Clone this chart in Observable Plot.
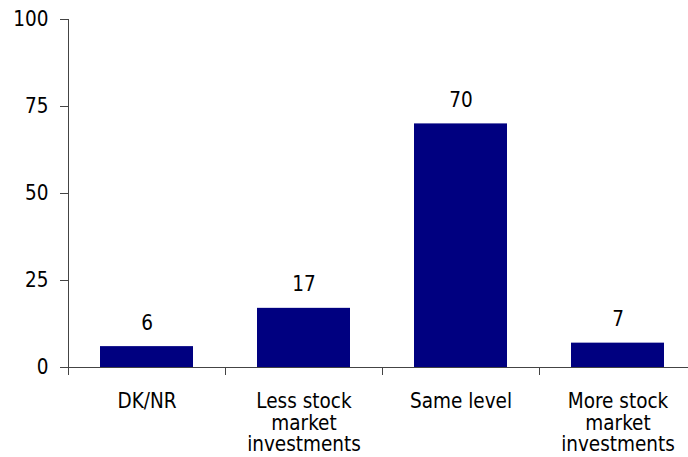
<!DOCTYPE html>
<html><head><meta charset="utf-8">
<script src="https://cdn.jsdelivr.net/npm/d3@7"></script>
<script src="https://cdn.jsdelivr.net/npm/@observablehq/plot@0.6"></script>
<style>body{margin:0;background:#fff;} svg{display:block;}</style>
</head><body><div id="chart"></div>
<script>
const categories = ["DK/NR", "Less stock\nmarket\ninvestments", "Same level", "More stock\nmarket\ninvestments"];
const values = [6, 17, 70, 7];
const yTicks = [0, 25, 50, 75, 100];
const data = categories.map((c, i) => ({category: c, value: values[i]}));

const axisColor = "#444";
const fs = 20.5;

// category boundary ticks below the x axis, placed with the band scale
function boundaryTicks(index, scales) {
  const x = scales.x, y = scales.y;
  const step = x.step(), bw = x.bandwidth();
  const gap = (step - bw) / 2;
  const xs = categories.map(c => x(c) - gap);
  xs.push(x(categories[categories.length - 1]) + bw + gap);
  const y0 = y(0);
  const g = d3.create("svg:g").attr("stroke", axisColor).attr("stroke-width", 1);
  for (const v of xs) {
    g.append("line").attr("x1", v + 0.5).attr("x2", v + 0.5).attr("y1", y0).attr("y2", y0 + 8);
  }
  return g.node();
}

const chart = Plot.plot({
  width: 688,
  height: 457,
  marginLeft: 68,
  marginRight: 0,
  marginTop: 19,
  marginBottom: 90,
  style: {fontFamily: "'DejaVu Sans Condensed', 'DejaVu Sans', sans-serif", fontStretch: "condensed", fontSize: fs + "px", color: "#000", background: "#fff"},
  x: {domain: categories, range: [68, 696], paddingInner: 0.41, paddingOuter: 0.205, label: null},
  y: {domain: [0, 100], label: null},
  marks: [
    Plot.barY(data, {x: "category", y: "value", fill: "#000080"}),
    Plot.text(data, {x: "category", y: "value", text: d => String(d.value), lineAnchor: "bottom", dy: -17, fontSize: fs, fill: "#000"}),
    Plot.frame({anchor: "left", stroke: axisColor}),
    Plot.ruleY([0], {stroke: axisColor}),
    boundaryTicks,
    Plot.axisY({ticks: yTicks, tickSize: 8, tickPadding: 12, fontSize: fs, stroke: axisColor, fill: "#000", label: null}),
    Plot.axisX({tickSize: 0, tickPadding: 25, fontSize: fs, lineHeight: 1.06, fill: "#000", label: null})
  ]
});
document.getElementById("chart").appendChild(chart);
</script>
</body></html>
